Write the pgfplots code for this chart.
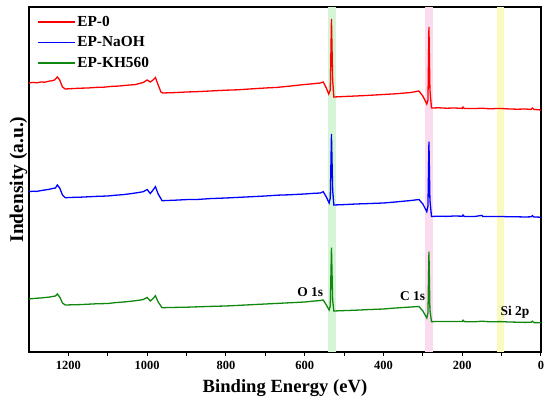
\documentclass[border=0pt]{standalone}
\usepackage{fontspec}
\setmainfont{Liberation Serif}
\usepackage{pgfplots}
\pgfplotsset{compat=1.18}
\definecolor{bandG}{RGB}{214,245,214}
\definecolor{bandP}{RGB}{250,220,238}
\definecolor{bandY}{RGB}{250,250,192}
\definecolor{cG}{RGB}{16,136,16}
\begin{document}
\begin{tikzpicture}
\begin{axis}[
  name=ax,
  scale only axis,
  width=512bp, height=345bp,
  xmin=0, xmax=1300, ymin=0, ymax=345,
  x dir=reverse,
  axis line style={line width=1.1pt},
  xtick={0,200,...,1200},
  minor x tick num=1,
  xtick pos=bottom,
  ytick=\empty,
  tick align=outside,
  major tick length=4bp, minor tick length=4bp,
  every tick/.style={black, line width=1pt},
  /pgf/number format/assume math mode=true,
  /pgf/number format/1000 sep={},
  xticklabel style={font=\bfseries\fontsize{12.5}{14}\selectfont, anchor=base, yshift=-13bp},
  xlabel={Binding Energy (eV)},
  ylabel={Indensity (a.u.)},
  xlabel style={font=\bfseries\fontsize{18.7}{22}\selectfont, at={(rel axis cs:0.5,-0.1188)}, anchor=base},
  ylabel style={font=\bfseries\fontsize{19.5}{22}\selectfont, at={(rel axis cs:-0.0117,0.5)}, anchor=base, rotate=0},
  legend style={at={(rel axis cs:0.016,0.983)}, anchor=north west, draw=none, fill=none,
    font=\bfseries\fontsize{15.4}{18}\selectfont, row sep=5bp, inner sep=1bp},
  legend cell align=left,
  legend image code/.code={\path[#1, draw=none] (0bp,-5bp) rectangle (37bp,5bp); \fill[#1, draw=none] (0bp,-0.8bp) rectangle (37bp,0.8bp);},
  clip=false,
]
\addplot[fill=bandG, draw=none, forget plot] coordinates {(520,0) (520,345) (541,345) (541,0)} -- cycle;
\addplot[fill=bandP, draw=none, forget plot] coordinates {(275,0) (275,345) (294,345) (294,0)} -- cycle;
\addplot[fill=bandY, draw=none, forget plot] coordinates {(93,0) (93,345) (112,345) (112,0)} -- cycle;

% EP-0
\addplot[red, line width=1.3pt] coordinates {
(1300,269) (1290,269.6) (1280,269.2) (1270,270) (1260,269.8) (1250,270.8) (1242,271.2) (1235,272) (1228,275) (1222,272) (1215,265) (1208,263)
(1190,263.4) (1170,263.8) (1150,264) (1130,264.6) (1110,264.8) (1090,265.6) (1070,266) (1050,266.8) (1030,267.4) (1010,269.5)
(1000,272) (992,270) (985,272) (979,274.5) (972,267) (965,260) (960,259)
(930,259.4) (900,260) (870,260.4) (840,261) (800,261.8) (770,262.2) (740,263) (700,264) (670,264.6) (640,265.8) (600,267.5) (580,268.2)
(560,269) (553,270) (545,264) (539,258) (535,262) (532,333) (529,272) (526,255)
(500,255.5) (470,256) (440,256.6) (400,257.5) (370,258.2) (330,259.5) (310,261) (300,256) (290,248) (287,252) (284.5,325) (282,262) (278,244)
(260,244.2) (240,243.8) (220,244) (200,243.6) (198,245) (195,243.6) (170,243.4) (150,243.8) (130,243.2) (105,243.6) (80,243) (60,242.8) (40,243) (25,242.6) (22,244) (18,242.6) (0,242)
};
\addlegendentry{EP-0}

% EP-NaOH
\addplot[blue, line width=1.3pt] coordinates {
(1300,160.3) (1290,160.8) (1280,160.6) (1270,161.4) (1260,162) (1250,162.6) (1240,163.5) (1233,164) (1228,167) (1222,164) (1215,157) (1208,154.3)
(1190,154.6) (1170,154.8) (1150,155.2) (1130,155.6) (1100,156) (1080,156.8) (1060,157.4) (1040,158.4) (1020,159.6) (1010,160.3)
(1000,162.5) (992,158.5) (985,162) (979,165.3) (972,158) (962,151.3)
(930,151.8) (900,152.4) (870,152.6) (840,153.4) (800,154) (770,154.6) (740,155.2) (700,156) (670,156.8) (640,157.2) (600,158) (580,158.6)
(560,159) (553,160.3) (545,155) (538,149) (535,154) (532,218) (529,162) (526,147)
(500,147.4) (470,148) (440,148.4) (400,149) (370,150) (330,151.5) (310,152.5) (300,148) (290,140.3) (287,146) (284.5,210.3) (282,152) (278,135.5)
(260,135.8) (240,135.6) (220,136) (200,135.8) (198,137) (195,135.6) (170,135.4) (150,136.6) (148,135.6) (130,135.4) (105,135.6) (80,135.2) (60,135.2) (40,135) (25,135.2) (22,136.4) (18,135) (0,134.8)
};
\addlegendentry{EP-NaOH}

% EP-KH560
\addplot[cG, line width=1.3pt] coordinates {
(1300,53) (1290,53.4) (1280,53.8) (1270,54) (1260,54.5) (1250,54.8) (1240,55.5) (1233,56) (1228,58) (1222,55) (1215,49) (1208,47)
(1190,47.2) (1170,47.4) (1150,47.8) (1130,48.2) (1100,48.5) (1080,49.4) (1060,50) (1040,50.8) (1020,51.8) (1010,52.5)
(1000,54.5) (992,51) (985,53.5) (979,56.3) (972,50) (962,44.3)
(930,44.6) (900,44.8) (870,45.2) (840,45.6) (800,46) (770,46.6) (740,47.2) (700,48) (670,48.6) (640,49.2) (600,50) (580,50.8)
(560,51.5) (553,52) (545,47) (538,42) (535,46) (532,104.3) (529,52) (526,41)
(500,41.4) (470,41.8) (440,42.4) (400,43) (370,44) (330,45) (310,45.5) (300,41) (290,34) (287,39) (284.5,100.3) (282,42) (278,30.3)
(260,30.6) (240,30.4) (220,30.6) (200,30.5) (198,31.8) (195,30.4) (170,30.2) (150,30.8) (130,30.2) (105,30.4) (80,30) (60,29.8) (40,29.6) (25,29.8) (22,30.8) (18,29.4) (0,29.3)
};
\addlegendentry{EP-KH560}

\node[font=\bfseries\fontsize{13.5}{16}\selectfont, anchor=base] at (axis cs:586,55.3) {O 1s};
\node[font=\bfseries\fontsize{13.5}{16}\selectfont, anchor=base] at (axis cs:326,51.3) {C 1s};
\node[font=\bfseries\fontsize{13.5}{16}\selectfont, anchor=base] at (axis cs:66,37) {Si 2p};
\end{axis}
\path ([xshift=-29bp,yshift=-51bp]ax.south west) rectangle ([xshift=9bp,yshift=7bp]ax.north east);
\end{tikzpicture}
\end{document}
